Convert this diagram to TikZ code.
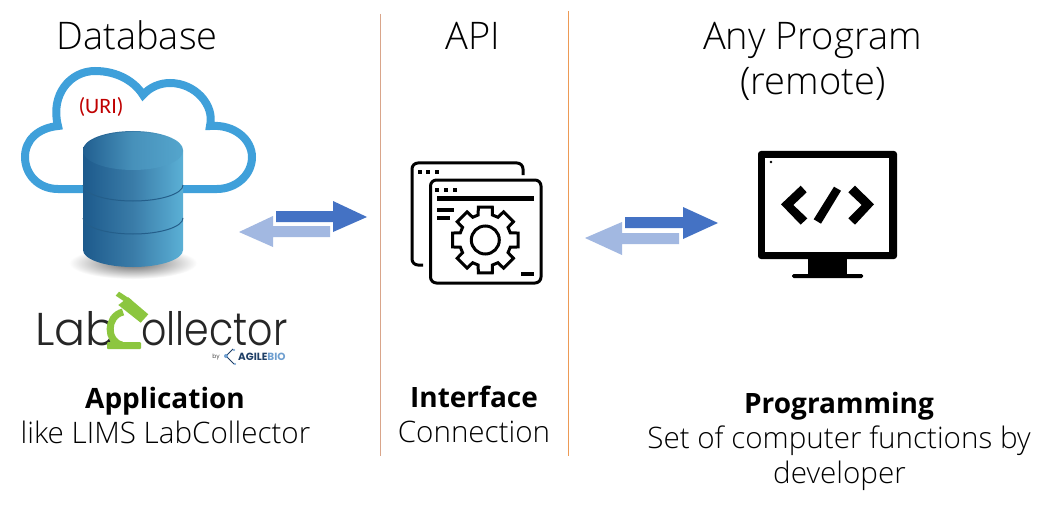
\documentclass[tikz,border=0pt]{standalone}
\usepackage{fontspec}
\setmainfont{Open Sans Light}
\newfontfamily\headfont{Open Sans}
\newfontfamily\logofont{Poppins Light}
\newfontfamily\boldlogo{Poppins}
\newfontfamily\urifont{Carlito}
\definecolor{cloudblue}{HTML}{3FA0DA}
\definecolor{darkarrow}{HTML}{4472C4}
\definecolor{lightarrow}{HTML}{A2B8E1}
\definecolor{uri}{HTML}{C00000}
\definecolor{divA}{HTML}{D9A58A}
\definecolor{divB}{HTML}{ED9A55}
\definecolor{scopeg}{HTML}{8CC63F}
\definecolor{cylL}{HTML}{1D5A8C}
\definecolor{cylM}{HTML}{3A7CA8}
\definecolor{cylR}{HTML}{5BB0D6}
\definecolor{cylLine}{HTML}{245E8A}
\definecolor{agile}{HTML}{1F3F66}
\definecolor{bio}{HTML}{6F9FD0}
\tikzset{
  x=1pt,y=-1pt,
  title/.style={inner sep=0pt,anchor=base,font=\fontsize{38}{38}\selectfont,text=black},
  body/.style={inner sep=0pt,anchor=base,font=\fontsize{29.6}{30}\selectfont,text=black},
  head/.style={inner sep=0pt,anchor=base,font=\headfont\bfseries\fontsize{28}{29}\selectfont,text=black},
  divider/.style={line width=1pt},
  arrowdark/.style={fill=darkarrow},
  arrowlight/.style={fill=lightarrow},
  icon/.style={draw=black,line width=3pt,line join=miter},
  iconfill/.style={fill=black,draw=none},
}
\begin{document}
\begin{tikzpicture}
\useasboundingbox (0,0) rectangle (1055,508);
\fill[white] (0,0) rectangle (1055,508);
% dividers
\coordinate (d1t) at (380,14); \coordinate (d1b) at (380,456);
\coordinate (d2t) at (568.5,11); \coordinate (d2b) at (568.5,456);
\draw[divider,divA] (d1t) -- (d1b);
\draw[divider,divB] (d2t) -- (d2b);
% cloud
\draw[cloudblue,line width=8pt,line join=miter]
 (90,189) -- (58,189) .. controls (38,189) and (25,174) .. (25,157)
 .. controls (25,140) and (38,128) .. (58,126)
 .. controls (50,95) and (70,71) .. (95,71)
 .. controls (118,71) and (135,82) .. (143,95)
 .. controls (150,87) and (160,83) .. (170,83)
 .. controls (195,83) and (215,105) .. (210,126)
 .. controls (235,124) and (252,140) .. (252,157)
 .. controls (252,175) and (236,189) .. (217,189) -- (175,189);
% shadow
\shade[inner color=black!60,outer color=white] (133,263) ellipse [x radius=64pt,y radius=16pt];
% cylinder
\shade[left color=cylL,right color=cylR,middle color=cylM]
 (83,150) -- (83,250) arc[start angle=180,end angle=360,x radius=50pt,y radius=17pt] -- (183,150) arc[start angle=0,end angle=180,x radius=50pt,y radius=19pt] -- cycle;
\draw[cylLine,line width=1pt] (83,185) arc[start angle=180,end angle=360,x radius=50pt,y radius=16pt];
\draw[cylLine,line width=1pt] (83,218) arc[start angle=180,end angle=360,x radius=50pt,y radius=16pt];
\shade[left color=cylL!85!cylM,right color=cylR!80!cylM,middle color=cylM!60!cylR] (133,151) ellipse [x radius=50pt,y radius=19pt];
% URI
\node[inner sep=0pt,font=\urifont\fontsize{22}{22}\selectfont,text=uri] (urilabel) at (101,107) {(URI)};
% titles
\node[title] (tdb) at (137,49.5) {Database};
\node[title] (tapi) at (473,49.5) {API};
\node[title] (tany) at (812.5,49.5) {Any Program};
\node[title] (trem) at (813,94.5) {(remote)};
% arrows left
\fill[arrowlight] (239,232) -- (273,216) -- (273,226) -- (330,226) -- (330,237) -- (273,237) -- (273,247) -- cycle;
\fill[arrowdark] (276,211) -- (333,211) -- (333,201) -- (367,217) -- (333,232) -- (333,222) -- (276,222) -- cycle;
% arrows right
\fill[arrowlight] (585,238) -- (622,222) -- (622,233) -- (679,233) -- (679,244) -- (622,244) -- (622,255) -- cycle;
\fill[arrowdark] (625,217) -- (683,217) -- (683,207) -- (718,223) -- (683,239) -- (683,228) -- (625,228) -- cycle;
% API icon
\draw[icon,rounded corners=6pt] (523,175) -- (523,163) -- (412,163) -- (412,265) -- (423,265);
\draw[icon,rounded corners=6pt] (430.5,180) rectangle (541,283);
\foreach \x in {419.5,428,437} \fill[iconfill] (\x-2,170) rectangle (\x+2,174);
\foreach \x in {437,446,455} \fill[iconfill] (\x-2,187.5) rectangle (\x+2,191.5);
\fill[iconfill] (437,196) rectangle (534,201);
\fill[iconfill] (437,207.5) rectangle (454,212);
\fill[iconfill] (437,216) rectangle (450,220);
\fill[iconfill] (521,271.5) rectangle (534,275.5);
\begin{scope}[shift={(485.3,240)}]
\draw[icon,fill=white] (-16:26pt)
 \foreach \a in {0,45,...,315} { -- (\a-16:26pt) -- (\a-12:33.5pt) -- (\a+12:33.5pt) -- (\a+16:26pt) } -- cycle;
\draw[icon] (0,0) circle (14pt);
\end{scope}
% monitor
\fill[iconfill,rounded corners=3pt] (758,151) rectangle (897,259);
\fill[white] (765,158) rectangle (889,252);
\fill[iconfill] (771,162) circle (1.3pt);
\fill[iconfill] (808,259) rectangle (847,275);
\fill[iconfill,rounded corners=1.5pt] (792,274) rectangle (863,278);
\fill[iconfill] (800.7,185.7) -- (806.7,192.3) -- (793.3,205) -- (807.3,218.3) -- (800.7,224.7) -- (781,204.3) -- cycle;
\fill[iconfill] (855,185.7) -- (848.3,192.3) -- (861.7,205) -- (848.3,218.3) -- (855,224.7) -- (874,204.3) -- cycle;
\fill[iconfill] (834,186.7) -- (841,190.7) -- (821,223.7) -- (813.7,219.3) -- cycle;
% logo
\node[inner sep=0pt,anchor=base west,font=\logofont\fontsize{46}{46}\selectfont,text=black!85] (logoa) at (35,345) {Lab};
\node[inner sep=0pt,anchor=base west,font=\logofont\fontsize{46}{46}\selectfont,text=black!85] (logob) at (141,345) {\scalebox{.86}[1]{ollector}};
\draw[scopeg,line width=7pt] (123,312) .. controls (106,316) and (106,342) .. (122,345);
\fill[scopeg,rounded corners=1pt] (107,342) rectangle (141,349);
\fill[scopeg] (128.3,297.3) -- (148.3,314.3) -- (140.7,322.7) -- (118.3,305) -- cycle;
\fill[scopeg] (119,291.7) -- (131.7,300) -- (128.3,304) -- (115.7,295.7) -- cycle;
\node[inner sep=0pt,font=\boldlogo\fontsize{6}{6}\selectfont,text=black!70] (logoby) at (216,357) {by};
\draw[agile,line width=1pt] (233,349) -- (226,356) -- (234,364);
\fill[bio] (226,356) circle (2pt) (234,350) circle (1.2pt) (235,364) circle (1.2pt);
\node[inner sep=0pt,anchor=west,font=\boldlogo\bfseries\fontsize{10.4}{11}\selectfont] (logoag) at (238,357) {\textcolor{agile}{AGILE}\textcolor{bio}{BIO}};
% captions
\node[head] (c1a) at (165,408) {Application};
\node[body] (c1b) at (165.5,443) {like LIMS LabCollector};
\node[head] (c2a) at (474,407) {Interface};
\node[body] (c2b) at (474,442) {Connection};
\node[head] (c3a) at (839,413) {Programming};
\node[body] (c3b) at (839,448) {Set of computer functions by};
\node[body] (c3c) at (839.5,483) {developer};
\end{tikzpicture}
\end{document}
